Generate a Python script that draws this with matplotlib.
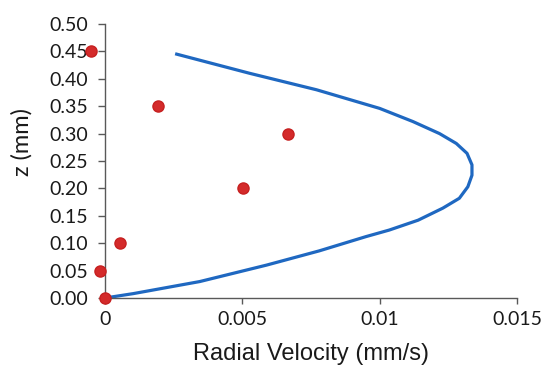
import matplotlib
matplotlib.use("Agg")
import matplotlib.pyplot as plt

# Measured points (red dots)
meas_v = [0.0, -0.00018, 0.00055, 0.00503, 0.00667, 0.00194, -0.00052]
meas_z = [0.00, 0.05, 0.10, 0.20, 0.30, 0.35, 0.45]

# Model profile (blue curve)
model_v = [0.0, 0.00103, 0.00345, 0.00588, 0.00780, 0.00950, 0.01035, 0.01140,
           0.01230, 0.01290, 0.01321, 0.01336, 0.01336, 0.01318, 0.01279,
           0.01218, 0.01121, 0.01000, 0.00770, 0.00527, 0.00261]
model_z = [0.000, 0.008, 0.030, 0.060, 0.086, 0.112, 0.124, 0.142,
           0.164, 0.182, 0.203, 0.224, 0.243, 0.264, 0.282,
           0.300, 0.322, 0.346, 0.380, 0.410, 0.445]

x_ticks = [0, 0.005, 0.01, 0.015]
x_labels = ["0", "0.005", "0.01", "0.015"]
y_ticks = [0.00, 0.05, 0.10, 0.15, 0.20, 0.25, 0.30, 0.35, 0.40, 0.45, 0.50]
y_labels = ["%.2f" % v for v in y_ticks]

fig = plt.figure(figsize=(5.42, 3.66), dpi=100)
ax = fig.add_axes([0.1937, 0.1858, 0.7602, 0.7486])

ax.plot(model_v, model_z, color="#1f68c1", lw=2.3, solid_joinstyle="round", zorder=2)
ax.plot(meas_v, meas_z, "o", color="#d42a2a", ms=8, mec="#c62020", clip_on=False, zorder=3)

ax.set_xlim(0, 0.015)
ax.set_ylim(0, 0.5)
ax.set_xticks(x_ticks)
ax.set_xticklabels(x_labels)
ax.set_yticks(y_ticks)
ax.set_yticklabels(y_labels)

for side in ["top", "right"]:
    ax.spines[side].set_visible(False)
for side in ["left", "bottom"]:
    ax.spines[side].set_color("#595959")
    ax.spines[side].set_linewidth(1.0)

ax.tick_params(direction="out", width=1.0, color="#595959",
               labelsize=14, labelcolor="#1a1a1a")
ax.tick_params(axis="x", length=4.3, pad=5)
ax.tick_params(axis="y", length=5, pad=7)
for lbl in ax.get_xticklabels() + ax.get_yticklabels():
    lbl.set_fontfamily("Lato")

ax.set_xlabel("Radial Velocity (mm/s)", fontsize=17, fontfamily="Liberation Sans",
              color="#1a1a1a")
ax.xaxis.set_label_coords(0.5, -0.165)
ax.set_ylabel("z (mm)", fontsize=17, fontfamily="Lato", color="#1a1a1a")
ax.yaxis.set_label_coords(-0.175, 0.57)

fig.savefig("out.png", dpi=100)
